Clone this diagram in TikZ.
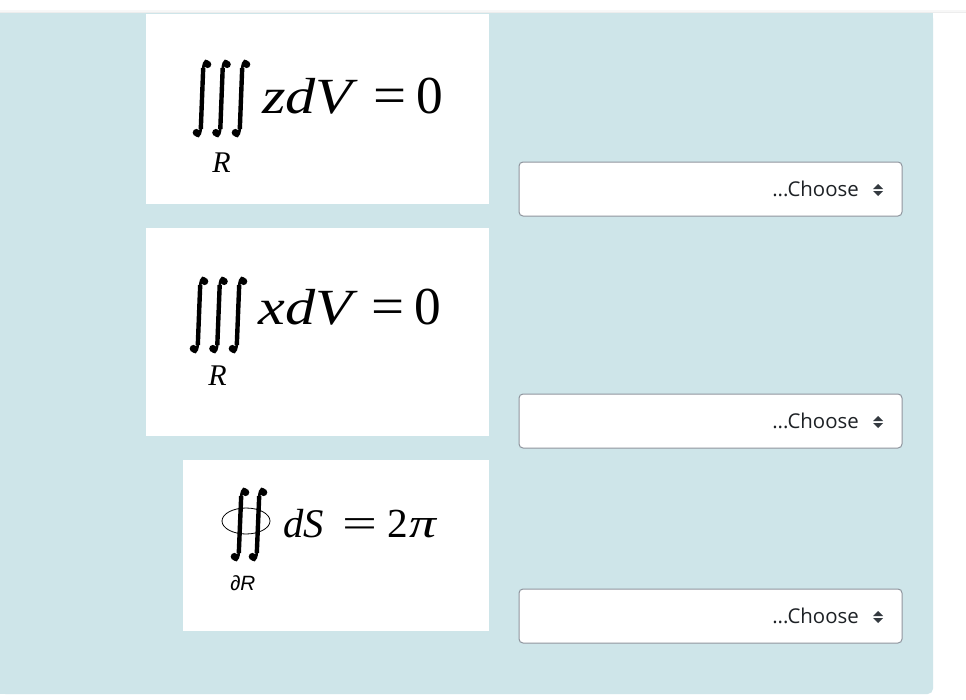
\documentclass[tikz,border=0pt]{standalone}
\usepackage{fontspec}
\usepackage{graphicx}
\setmainfont{Liberation Serif}
\newfontfamily\uifont{Open Sans}
\newfontfamily\arialfont{Liberation Sans}
\definecolor{panel}{HTML}{CEE5E9}
\definecolor{ddborder}{HTML}{8F959E}
\definecolor{uitext}{HTML}{1D2125}
\definecolor{arrowc}{HTML}{343A40}
\tikzset{
  mathbox/.style={fill=white},
  ddbox/.style={draw=ddborder, line width=0.75pt, fill=white, rounded corners=3pt},
  ddtext/.style={inner sep=0pt, anchor=base east, text=uitext, font=\uifont\fontsize{15.3}{17}\selectfont},
  ddarrow/.style={fill=arrowc},
  mt/.style={inner sep=0pt, anchor=base west},
  mte/.style={inner sep=0pt, anchor=base east},
  inthook/.style={line width=2pt, line cap=round},
  intstem/.style={line width=3.3pt},
}
\newcommand{\drawint}[3]{% #1 = centre x, #2 = top, #3 = bottom
  \draw[inthook] ({#1+6.2},{#2+4.5}) .. controls ({#1+5.8},{#2-0.5}) and ({#1+1.8},{#2-1}) .. ({#1+1.2},{#2+9});
  \draw[intstem] ({#1+1.2},{#2+8}) -- ({#1-1.2},{#3-8});
  \draw[inthook] ({#1-1.2},{#3-9}) .. controls ({#1-1.8},{#3+1}) and ({#1-5.8},{#3+0.5}) .. ({#1-6.2},{#3-4.5});
  \fill ({#1+5.6},{#2+4.4}) circle[radius=3.7];
  \fill ({#1-5.6},{#3-4.4}) circle[radius=3.7];
}
\begin{document}
\begin{tikzpicture}[x=0.75pt,y=-0.75pt]
\useasboundingbox (0,0) rectangle (966,699);
\fill[white] (0,0) rectangle (966,699);
% panel
\fill[panel, rounded corners=4pt] (0,13) rectangle (933,694);
\fill[panel] (0,13) rectangle (933,680);
\fill[panel] (0,13) rectangle (910,694);
\fill[black!7] (0,12) rectangle (966,13.5);
\fill[black!3] (0,10.5) rectangle (966,12);
% white boxes
\fill[mathbox] (146,14) rectangle (489,204);
\fill[mathbox] (146,228) rectangle (489,436);
\fill[mathbox] (183,460) rectangle (489,631);

% formula 1
\drawint{202}{60}{137}
\drawint{221.5}{60}{137}
\drawint{241}{60}{137}
\node[mt] (lhs1) at (262,113) {\fontsize{38}{38}\selectfont\scalebox{1.19}[1]{\textit{zdV}}};
\node[mt] (eq1) at (373,113) {\fontsize{40}{40}\selectfont\scalebox{1.1}[1]{=}};
\node[mte] (rhs1) at (443,113) {\fontsize{40}{40}\selectfont 0};
\node[mt] (sub1) at (212,172) {\fontsize{22.5}{22.5}\selectfont\textit{R}};

% formula 2
\drawint{199}{277}{353}
\drawint{218.5}{277}{353}
\drawint{238}{277}{353}
\node[mt] (lhs2) at (258,324) {\fontsize{38}{38}\selectfont\scalebox{1.19}[1]{\textit{xdV}}};
\node[mt] (eq2) at (371,324) {\fontsize{40}{40}\selectfont\scalebox{1.1}[1]{=}};
\node[mte] (rhs2) at (441,324) {\fontsize{40}{40}\selectfont 0};
\node[mt] (sub2) at (208,385) {\fontsize{22.5}{22.5}\selectfont\textit{R}};

% formula 3
\draw[line width=0.6pt] (246,521) ellipse [x radius=24, y radius=13];
\drawint{240}{488}{561}
\drawint{258}{488}{561}
\node[mt] (lhs3) at (283,537) {\fontsize{30.5}{30.5}\selectfont\textit{dS}};
\node[mt] (eq3) at (342,537) {\fontsize{31}{31}\selectfont\scalebox{1.5}[1]{=}};
\node[mt] (two3) at (387,537) {\fontsize{31}{31}\selectfont 2};
\node[mte] (pi3) at (438,537) {\fontsize{31}{31}\selectfont\scalebox{1.3}[1]{\textit{π}}};
\node[mt] (sub3) at (230,590) {\arialfont\fontsize{15.5}{15.5}\selectfont ∂\textit{R}};

% dropdowns
\foreach \top/\n in {162/a,394/b,589/c}{
  \draw[ddbox] (519,\top) rectangle (902,\top+54);
  \node[ddtext] (dd\n) at (859,\top+34) {...Choose};
  \fill[ddarrow] (873,\top+27) -- (883,\top+27) -- (878,\top+22) -- cycle;
  \fill[ddarrow] (873,\top+29) -- (883,\top+29) -- (878,\top+34) -- cycle;
}
\end{tikzpicture}
\end{document}
